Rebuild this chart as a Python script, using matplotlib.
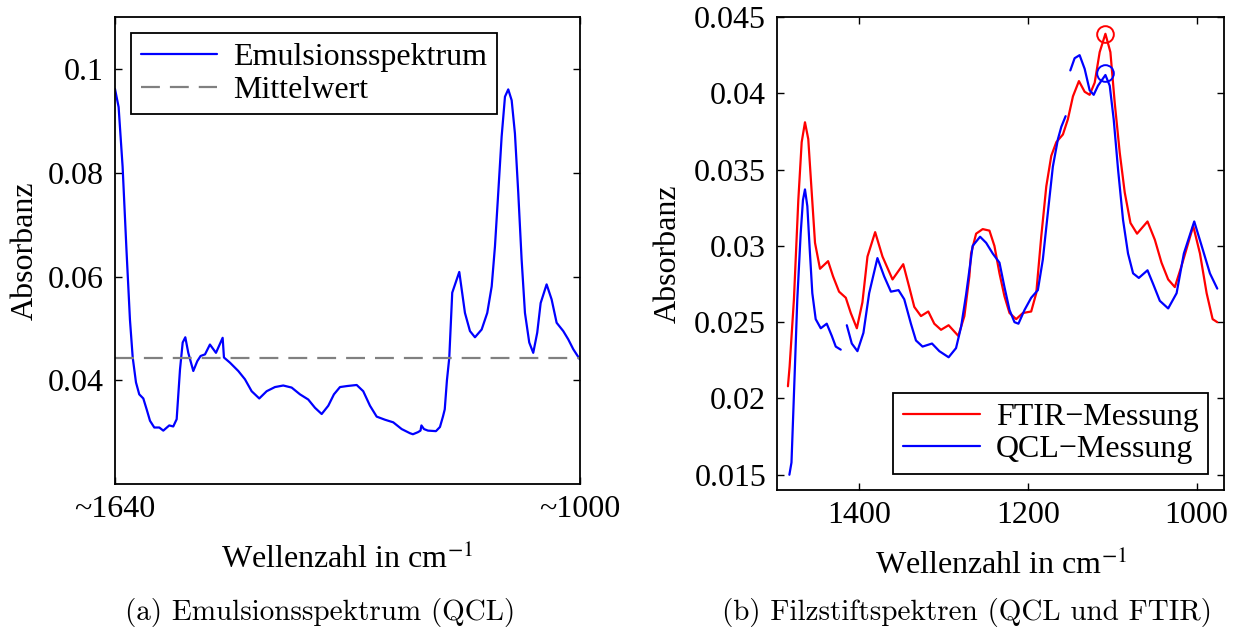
import matplotlib
matplotlib.use("Agg")
import matplotlib.pyplot as plt

plt.rcParams["font.family"] = "Liberation Serif"
plt.rcParams["mathtext.fontset"] = "stix"

# (a) emulsion spectrum, QCL
emu_wn = [1640, 1635.0, 1629.5, 1624.2, 1619.4, 1615.6, 1611.1, 1606.6, 1601.0, 1596.4,
          1591.8, 1585.9, 1579.0, 1573.5, 1565.3, 1559.8, 1555.1, 1550.5, 1546.8, 1543.2,
          1539.1, 1532.2, 1526.7, 1522.1, 1516.1, 1509.3, 1501.0, 1491.8, 1490.0, 1481.7,
          1470.3, 1461.1, 1451.9, 1441.4, 1431.2, 1419.8, 1408.4, 1396.8, 1385.4, 1374.0,
          1364.7, 1355.5, 1346.4, 1338.6, 1330.3, 1320.3, 1307.3, 1298.3, 1289.0, 1279.8,
          1268.4, 1257.0, 1245.4, 1234.0, 1229.9, 1223.0, 1219.5, 1218.2, 1214.7, 1209.2,
          1198.2, 1192.7, 1188.6, 1186.1, 1183.1, 1179.9, 1175.8, 1166.1, 1158.3, 1151.4,
          1144.5, 1135.3, 1127.6, 1121.5, 1117.0, 1112.5, 1107.8, 1103.2, 1098.7, 1094.0,
          1089.5, 1084.9, 1080.3, 1075.7, 1069.8, 1064.3, 1058.8, 1054.1, 1045.9, 1039.0,
          1032.1, 1023.0, 1016.1, 1009.2, 1000]
emu_abs = [0.0962, 0.0927, 0.0812, 0.0652, 0.0517, 0.0444, 0.0396, 0.0373, 0.0365, 0.0344,
           0.0322, 0.0309, 0.0309, 0.0303, 0.0313, 0.0311, 0.0325, 0.0421, 0.0473, 0.0483,
           0.0453, 0.0418, 0.0437, 0.0447, 0.0450, 0.0469, 0.0453, 0.0482, 0.0444, 0.0434,
           0.0418, 0.0402, 0.0379, 0.0365, 0.0379, 0.0387, 0.0390, 0.0386, 0.0373, 0.0363,
           0.0347, 0.0335, 0.0351, 0.0373, 0.0387, 0.0389, 0.0391, 0.0379, 0.0351, 0.0330,
           0.0324, 0.0319, 0.0306, 0.0298, 0.0296, 0.0300, 0.0303, 0.0313, 0.0306, 0.0303,
           0.0302, 0.0310, 0.0330, 0.0344, 0.0400, 0.0443, 0.0569, 0.0609, 0.0530, 0.0495,
           0.0483, 0.0498, 0.0530, 0.0581, 0.0658, 0.0761, 0.0870, 0.0947, 0.0961, 0.0940,
           0.0876, 0.0761, 0.0633, 0.0530, 0.0473, 0.0453, 0.0492, 0.0549, 0.0585, 0.0556,
           0.0511, 0.0495, 0.0479, 0.0460, 0.0440]
emu_mean = 0.0443

# (b) felt pen spectra
ftir_wn = [1484.4, 1482.4, 1477.3, 1472.1, 1468.1, 1464.2, 1460.3, 1456.2, 1452.3, 1446.4,
           1436.8, 1430.9, 1423.8, 1415.8, 1409.9, 1402.7, 1396.1, 1390.1, 1381.0, 1372.3,
           1360.4, 1347.7, 1340.6, 1334.6, 1326.7, 1318.0, 1310.9, 1302.9, 1293.9, 1282.4,
           1275.2, 1269.3, 1267.3, 1261.3, 1253.5, 1245.5, 1239.6, 1233.6, 1227.7, 1221.7,
           1213.8, 1205.9, 1196.0, 1190.0, 1184.1, 1178.1, 1172.2, 1166.2, 1158.4, 1152.5,
           1146.5, 1139.4, 1132.6, 1126.7, 1120.7, 1114.8, 1108.0, 1102.1, 1097.0, 1091.0,
           1085.1, 1078.3, 1070.5, 1058.1, 1049.4, 1041.5, 1033.6, 1025.7, 1017.7, 1003.9,
           995.9, 988.0, 980.9, 975.4]
ftir_abs = [0.0208, 0.0221, 0.0265, 0.0330, 0.0368, 0.0381, 0.0370, 0.0335, 0.0302, 0.0285,
            0.0290, 0.0280, 0.0270, 0.0266, 0.0256, 0.0246, 0.0263, 0.0293, 0.0309, 0.0293,
            0.0278, 0.0288, 0.0273, 0.0260, 0.0254, 0.0257, 0.0249, 0.0245, 0.0248, 0.0241,
            0.0254, 0.0280, 0.0295, 0.0308, 0.0311, 0.0310, 0.0300, 0.0282, 0.0267, 0.0256,
            0.0252, 0.0256, 0.0257, 0.0269, 0.0306, 0.0339, 0.0359, 0.0368, 0.0373, 0.0383,
            0.0398, 0.0408, 0.0401, 0.0399, 0.0407, 0.0427, 0.0439, 0.0427, 0.0394, 0.0361,
            0.0335, 0.0315, 0.0308, 0.0316, 0.0304, 0.0289, 0.0278, 0.0273, 0.0287, 0.0313,
            0.0295, 0.0269, 0.0252, 0.0250]

# QCL spectrum comes in three pieces (one per laser chip)
qcl1_wn = [1482.7, 1480.2, 1478.1, 1476.1, 1473.3, 1469.3, 1466.6, 1464.2, 1461.4, 1458.6,
           1455.5, 1451.5, 1445.5, 1438.4, 1432.4, 1427.7, 1421.8]
qcl1_abs = [0.0150, 0.0158, 0.0190, 0.0221, 0.0265, 0.0308, 0.0330, 0.0337, 0.0326, 0.0298,
            0.0269, 0.0252, 0.0246, 0.0249, 0.0241, 0.0234, 0.0232]
qcl2_wn = [1414.6, 1408.7, 1402.0, 1394.9, 1388.1, 1378.3, 1370.3, 1362.3, 1353.3, 1346.5,
           1338.6, 1332.6, 1324.8, 1313.6, 1304.9, 1293.9, 1285.1, 1279.1, 1273.2, 1265.4,
           1256.6, 1249.4, 1241.6, 1233.6, 1227.7, 1221.7, 1215.8, 1211.1, 1203.9, 1196.0,
           1188.1, 1182.2, 1176.2, 1170.3, 1164.3, 1160.3, 1155.2]
qcl2_abs = [0.0248, 0.0236, 0.0231, 0.0243, 0.0269, 0.0292, 0.0280, 0.0270, 0.0271, 0.0265,
            0.0249, 0.0238, 0.0234, 0.0236, 0.0231, 0.0227, 0.0233, 0.0247, 0.0268, 0.0300,
            0.0306, 0.0302, 0.0295, 0.0289, 0.0273, 0.0258, 0.0250, 0.0249, 0.0258, 0.0266,
            0.0271, 0.0291, 0.0322, 0.0352, 0.0370, 0.0378, 0.0385]
qcl3_wn = [1149.6, 1144.5, 1138.6, 1132.6, 1126.7, 1121.9, 1116.8, 1108.0, 1102.9, 1098.2,
           1093.0, 1087.1, 1081.2, 1075.2, 1068.4, 1058.1, 1051.4, 1043.5, 1033.6, 1023.6,
           1015.0, 1002.7, 993.9, 984.1, 975.4]
qcl3_abs = [0.0415, 0.0423, 0.0425, 0.0416, 0.0402, 0.0399, 0.0405, 0.0412, 0.0405, 0.0383,
            0.0350, 0.0317, 0.0295, 0.0282, 0.0279, 0.0284, 0.0275, 0.0264, 0.0259, 0.0269,
            0.0295, 0.0316, 0.0300, 0.0282, 0.0272]

peak_wn = 1108.0
peak_ftir = 0.0439
peak_qcl = 0.0413

fs = 23
fig = plt.figure(figsize=(12.35, 6.3), dpi=100)
ax1 = fig.add_axes([0.0931, 0.2317, 0.3765, 0.7408])
ax2 = fig.add_axes([0.6294, 0.2222, 0.3617, 0.7508])

for ax in (ax1, ax2):
    ax.tick_params(direction="in", top=True, right=True, length=5, width=1,
                   labelsize=fs, pad=8)
    for s in ax.spines.values():
        s.set_linewidth(1.3)

line_kw = dict(lw=1.6, solid_joinstyle="round", solid_capstyle="round")

ax1.plot(emu_wn, emu_abs, color="blue", label="Emulsionsspektrum", **line_kw)
ax1.axhline(emu_mean, color="#808080", lw=1.6, dashes=(8.5, 4.5), label="Mittelwert")
ax1.set_xlim(1640, 1000)
ax1.set_ylim(0.02, 0.11)
ax1.set_xticks([1640, 1000])
ax1.set_xticklabels(["~1640", "~1000"])
ax1.set_yticks([0.04, 0.06, 0.08, 0.1])
ax1.set_yticklabels(["0.04", "0.06", "0.08", "0.1"])
ax1.set_ylabel("Absorbanz", fontsize=fs, labelpad=6)
ax1.set_xlabel("Wellenzahl in cm$^{-1}$", fontsize=fs, labelpad=14)
ax1.legend(loc="upper left", fontsize=fs, fancybox=False, edgecolor="black",
           framealpha=1, handlelength=2.4, borderpad=0.3, labelspacing=0.1,
           handletextpad=0.5, borderaxespad=0.5).get_frame().set_linewidth(1.3)

ax2.plot(ftir_wn, ftir_abs, color="red", label="FTIR\u2212Messung", **line_kw)
ax2.plot(qcl1_wn, qcl1_abs, color="blue", label="QCL\u2212Messung", **line_kw)
ax2.plot(qcl2_wn, qcl2_abs, color="blue", **line_kw)
ax2.plot(qcl3_wn, qcl3_abs, color="blue", **line_kw)
ax2.plot([peak_wn], [peak_ftir], "o", mfc="none", mec="red", ms=12, mew=1.4)
ax2.plot([peak_wn], [peak_qcl], "o", mfc="none", mec="blue", ms=12, mew=1.4)
ax2.set_xlim(1497, 967.4)
ax2.set_ylim(0.014, 0.045)
ax2.set_xticks([1400, 1200, 1000])
ax2.set_yticks([0.015, 0.02, 0.025, 0.03, 0.035, 0.04, 0.045])
ax2.set_yticklabels(["0.015", "0.02", "0.025", "0.03", "0.035", "0.04", "0.045"])
ax2.set_ylabel("Absorbanz", fontsize=fs, labelpad=8)
ax2.set_xlabel("Wellenzahl in cm$^{-1}$", fontsize=fs, labelpad=14)
ax2.legend(loc="lower right", fontsize=fs, fancybox=False, edgecolor="black",
           framealpha=1, handlelength=2.4, borderpad=0.3, labelspacing=0.1,
           handletextpad=0.5, borderaxespad=0.5).get_frame().set_linewidth(1.3)

fig.text(0.259, 0.027, "(a) Emulsionsspektrum (QCL)", ha="center", va="center",
         family="cmr10", fontsize=21)
fig.text(0.783, 0.027, "(b) Filzstiftspektren (QCL und FTIR)", ha="center", va="center",
         family="cmr10", fontsize=21)

fig.savefig("out.png", dpi=100)
